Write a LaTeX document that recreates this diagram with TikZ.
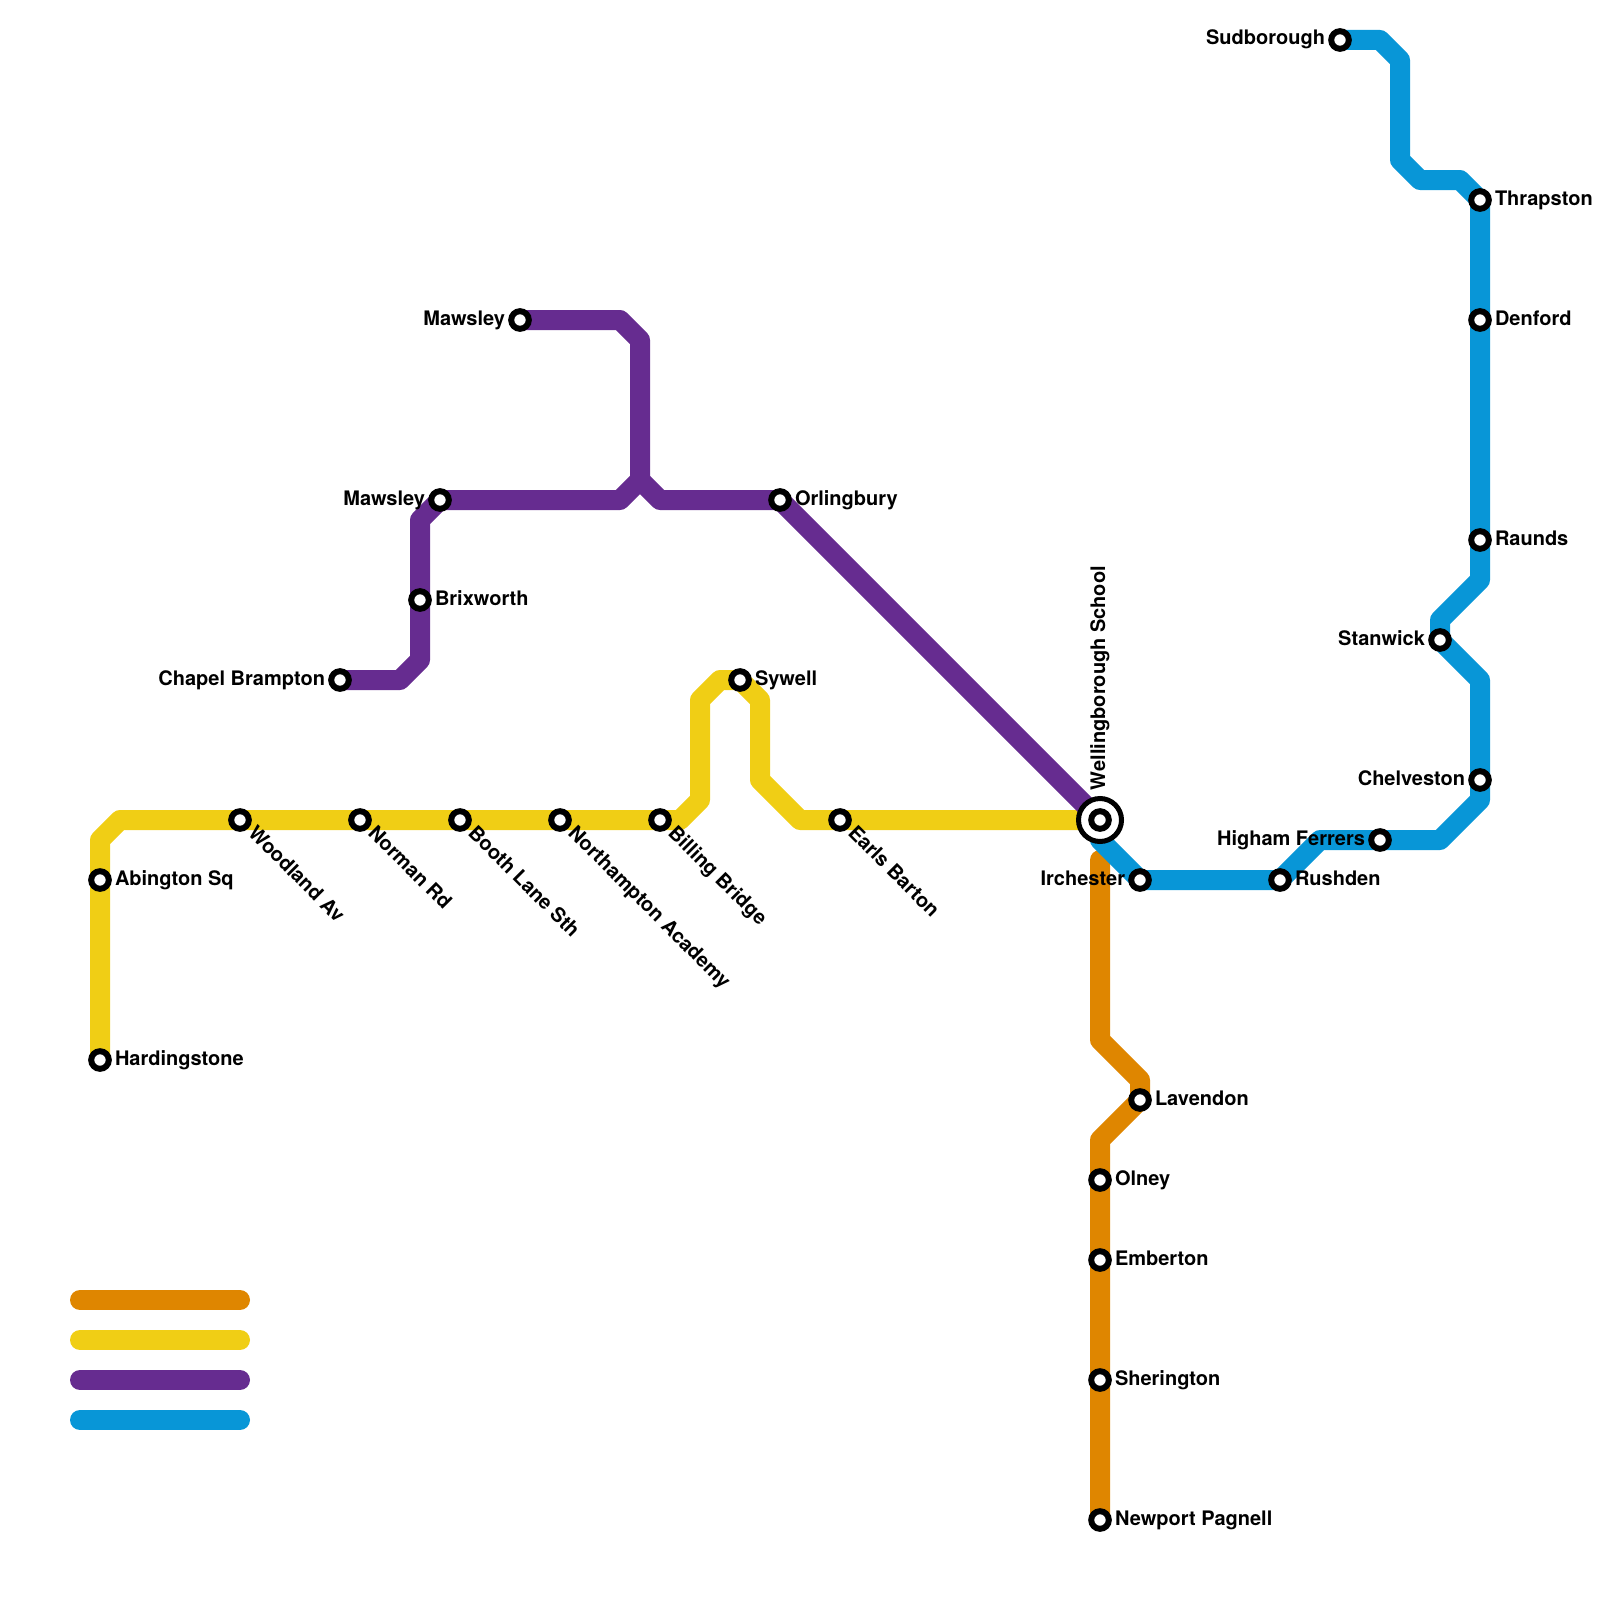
\documentclass[tikz,border=0pt]{standalone}
\usepackage{fontspec}
\setmainfont{TeX Gyre Heros}
\definecolor{lorange}{HTML}{DF8600}
\definecolor{lyellow}{HTML}{F0CE15}
\definecolor{lpurple}{HTML}{662C90}
\definecolor{lblue}{HTML}{0896D7}
\tikzset{
  railway/.style={line width=20pt,line join=round,line cap=round},
  stop/.style={circle,draw=black,fill=white,line width=6pt,minimum size=17.6pt,inner sep=0pt,outer sep=0pt},
  hub/.style={circle,draw=black,fill=white,line width=5pt,minimum size=43pt,inner sep=0pt,outer sep=0pt},
  lab/.style={inner sep=0pt,outer sep=0pt,text=black,font=\fontsize{20}{24}\selectfont\bfseries},
  labr/.style={lab,anchor=base west,xshift=15pt,yshift=-5pt},
  labl/.style={lab,anchor=base east,xshift=-15pt,yshift=-5pt},
  labd/.style={lab,anchor=base west,rotate=-45,xshift=15pt,yshift=-5pt},
  labu/.style={lab,anchor=base west,rotate=90,xshift=30pt,yshift=-5pt}
}
\begin{document}
\begin{tikzpicture}[x=1pt,y=-1pt]
\useasboundingbox (0,0) rectangle (1600,1600);
% stations
\coordinate (wel) at (1100,820);
\coordinate (har) at (100,1060);
\coordinate (abi) at (100,880);
\coordinate (woo) at (240,820);
\coordinate (nor) at (360,820);
\coordinate (boo) at (460,820);
\coordinate (nac) at (560,820);
\coordinate (bil) at (660,820);
\coordinate (syw) at (740,680);
\coordinate (ear) at (840,820);
\coordinate (mat) at (520,320);
\coordinate (mam) at (440,500);
\coordinate (bri) at (420,600);
\coordinate (cha) at (340,680);
\coordinate (orl) at (780,500);
\coordinate (sud) at (1340,40);
\coordinate (thr) at (1480,200);
\coordinate (den) at (1480,320);
\coordinate (rau) at (1480,540);
\coordinate (sta) at (1440,640);
\coordinate (che) at (1480,780);
\coordinate (hig) at (1380,840);
\coordinate (rus) at (1280,880);
\coordinate (irc) at (1140,880);
\coordinate (lav) at (1140,1100);
\coordinate (oln) at (1100,1180);
\coordinate (emb) at (1100,1260);
\coordinate (she) at (1100,1380);
\coordinate (new) at (1100,1520);
\coordinate (ostart) at (1100,860);
\coordinate (jct) at (640,480);
% legend
\coordinate (k1a) at (80,1300); \coordinate (k1b) at (240,1300);
\coordinate (k2a) at (80,1340); \coordinate (k2b) at (240,1340);
\coordinate (k3a) at (80,1380); \coordinate (k3b) at (240,1380);
\coordinate (k4a) at (80,1420); \coordinate (k4b) at (240,1420);
\draw[railway,lorange] (k1a) -- (k1b);
\draw[railway,lyellow] (k2a) -- (k2b);
\draw[railway,lpurple] (k3a) -- (k3b);
\draw[railway,lblue] (k4a) -- (k4b);
% lines
\draw[railway,lorange] (ostart) -- (1100,1040) -- (1140,1080) -- (lav) -- (1100,1140) -- (oln) -- (emb) -- (she) -- (new);
\draw[railway,lyellow] (har) -- (abi) -- (100,840) -- (120,820) -- (woo) -- (nor) -- (boo) -- (nac) -- (bil) -- (680,820) -- (700,800) -- (700,700) -- (720,680) -- (syw) -- (760,700) -- (760,780) -- (800,820) -- (ear) -- (wel);
\draw[railway,lpurple] (mat) -- (620,320) -- (640,340) -- (jct) -- (620,500) -- (mam) -- (420,520) -- (bri) -- (420,660) -- (400,680) -- (cha);
\draw[railway,lpurple] (jct) -- (660,500) -- (orl) -- (wel);
\draw[railway,lblue] (sud) -- (1380,40) -- (1400,60) -- (1400,160) -- (1420,180) -- (1460,180) -- (thr) -- (den) -- (rau) -- (1480,580) -- (1440,620) -- (sta) -- (1480,680) -- (che) -- (1480,800) -- (1440,840) -- (hig) -- (1320,840) -- (rus) -- (irc) -- (1100,840) -- (wel);
% station markers
\node[hub] (welhub) at (wel) {};
\foreach \s in {wel,har,abi,woo,nor,boo,nac,bil,syw,ear,mat,mam,bri,cha,orl,sud,thr,den,rau,sta,che,hig,rus,irc,lav,oln,emb,she,new}
  \node[stop] (\s-mark) at (\s) {};
% labels
\node[labu] (wel-t) at (wel) {Wellingborough School};
\node[labr] (har-t) at (har) {Hardingstone};
\node[labr] (abi-t) at (abi) {Abington Sq};
\node[labd] (woo-t) at (woo) {Woodland Av};
\node[labd] (nor-t) at (nor) {Norman Rd};
\node[labd] (boo-t) at (boo) {Booth Lane Sth};
\node[labd] (nac-t) at (nac) {Northampton Academy};
\node[labd] (bil-t) at (bil) {Billing Bridge};
\node[labr] (syw-t) at (syw) {Sywell};
\node[labd] (ear-t) at (ear) {Earls Barton};
\node[labl] (mat-t) at (mat) {Mawsley};
\node[labl] (mam-t) at (mam) {Mawsley};
\node[labr] (bri-t) at (bri) {Brixworth};
\node[labl] (cha-t) at (cha) {Chapel Brampton};
\node[labr] (orl-t) at (orl) {Orlingbury};
\node[labl] (sud-t) at (sud) {Sudborough};
\node[labr] (thr-t) at (thr) {Thrapston};
\node[labr] (den-t) at (den) {Denford};
\node[labr] (rau-t) at (rau) {Raunds};
\node[labl] (sta-t) at (sta) {Stanwick};
\node[labl] (che-t) at (che) {Chelveston};
\node[labl] (hig-t) at (hig) {Higham Ferrers};
\node[labr] (rus-t) at (rus) {Rushden};
\node[labl] (irc-t) at (irc) {Irchester};
\node[labr] (lav-t) at (lav) {Lavendon};
\node[labr] (oln-t) at (oln) {Olney};
\node[labr] (emb-t) at (emb) {Emberton};
\node[labr] (she-t) at (she) {Sherington};
\node[labr] (new-t) at (new) {Newport Pagnell};
\end{tikzpicture}
\end{document}
